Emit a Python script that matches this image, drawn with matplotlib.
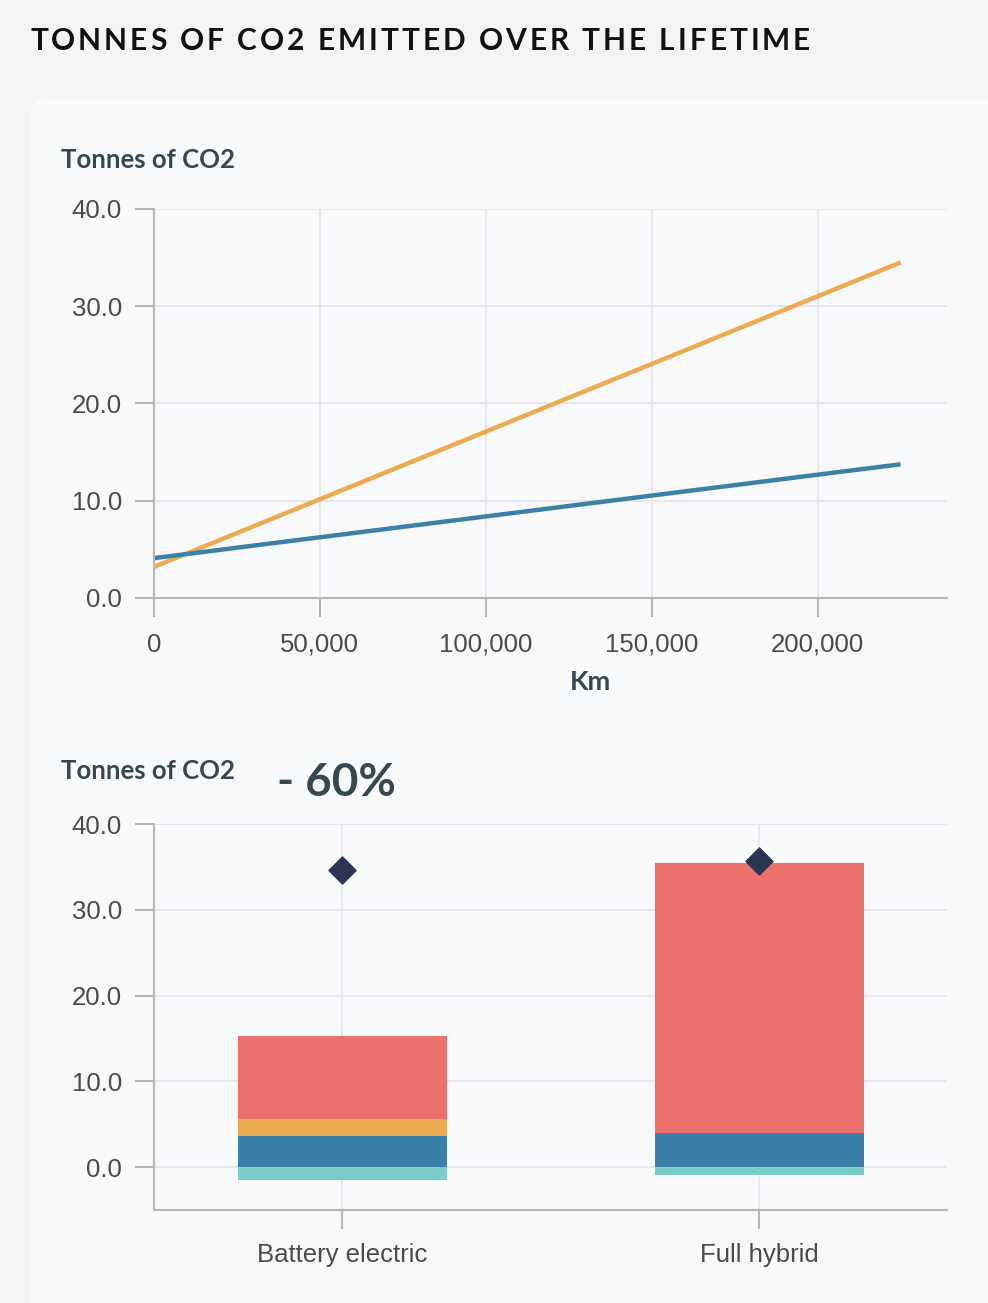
"""Lifetime CO2 emissions: battery electric vs full hybrid."""
import matplotlib

matplotlib.use("Agg")
import matplotlib.pyplot as plt
from matplotlib.patches import FancyBboxPatch
from matplotlib.ticker import FuncFormatter

# --- data -----------------------------------------------------------------
km = [0, 225000]
hybrid_line = [3.2, 34.5]
electric_line = [4.1, 13.75]

categories = ["Battery electric", "Full hybrid"]
seg_teal = [-1.5, -0.9]      # below zero
seg_blue = [3.6, 4.0]
seg_orange = [2.0, 0.0]
seg_red = [9.7, 31.45]
diamond = [34.6, 35.7]

y_ticks = [0, 10, 20, 30, 40]
x_ticks = [0, 50000, 100000, 150000, 200000]
saving_label = "- 60%"

# --- style ----------------------------------------------------------------
BG = "#f4f4f2"
CARD = "#f8f9fa"
GRID = "#e4e6e9"
SPINE = "#b4b6b8"
TEXT = "#4a4a4a"
HEAD = "#37474f"
ORANGE = "#eeaa50"
BLUE = "#3b80a7"
RED = "#ea716c"
TEAL = "#7accc9"
NAVY = "#2b3550"

W, H = 988, 1303
fig = plt.figure(figsize=(W / 100, H / 100), dpi=100, facecolor=BG)

card = FancyBboxPatch(
    (30 / W, -0.05), 1.2, (H - 100) / H + 0.05,
    boxstyle="round,pad=0,rounding_size=0.015",
    transform=fig.transFigure, facecolor=CARD, edgecolor="none", zorder=-5,
)
fig.patches.append(card)


def spaced_text(x_px, y_px, text, spacing_px, **kw):
    """Draw text with manual letter spacing (matplotlib has no tracking)."""
    renderer = fig.canvas.get_renderer()
    probe = fig.text(0, 0, "", **kw)

    def width(s):
        probe.set_text(s + "|")
        w1 = probe.get_window_extent(renderer).width
        probe.set_text("|")
        return w1 - probe.get_window_extent(renderer).width

    for i, ch in enumerate(text):
        x = x_px + width(text[:i]) + i * spacing_px
        fig.text(x / W, 1 - y_px / H, ch, va="center", ha="left", **kw)
    probe.remove()


spaced_text(30, 41, "TONNES OF CO2 EMITTED OVER THE LIFETIME", 3.0,
            fontsize=21.5, fontweight="bold", color="#111111", family="Lato")


def style_axes(ax):
    ax.set_facecolor("none")
    for side in ("top", "right"):
        ax.spines[side].set_visible(False)
    for side in ("left", "bottom"):
        ax.spines[side].set_color(SPINE)
        ax.spines[side].set_linewidth(1.5)
    ax.tick_params(axis="both", length=14, width=1.5, color=SPINE,
                   labelcolor=TEXT, labelsize=18.5)
    ax.tick_params(axis="y", pad=9)
    ax.grid(True, color=GRID, linewidth=1.3)
    ax.set_axisbelow(True)
    ax.yaxis.set_major_formatter(FuncFormatter(lambda v, _: f"{v:.1f}"))
    for lab in ax.get_xticklabels() + ax.get_yticklabels():
        lab.set_family(["Liberation Sans", "DejaVu Sans"])


# --- line chart -----------------------------------------------------------
ax1 = fig.add_axes([154 / W, 1 - 598 / H, (947 - 154) / W, (598 - 209) / H])
ax1.plot(km, hybrid_line, color=ORANGE, linewidth=3.2, solid_capstyle="butt")
ax1.plot(km, electric_line, color=BLUE, linewidth=3.2, solid_capstyle="butt")
ax1.set_xlim(0, 239000)
ax1.set_ylim(0, 40)
ax1.set_yticks(y_ticks)
ax1.set_xticks(x_ticks)
ax1.xaxis.set_major_formatter(FuncFormatter(lambda v, _: f"{v:,.0f}"))
style_axes(ax1)
ax1.tick_params(axis="x", pad=11)
fig.text(590 / W, 1 - 682 / H, "Km", fontsize=19.5, fontweight="bold",
         color=HEAD, family="Lato", ha="center", va="center")
fig.text(61 / W, 1 - 160 / H, "Tonnes of CO2", fontsize=18.5, fontweight="bold",
         color=HEAD, family="Lato", va="center")

# --- stacked bars ---------------------------------------------------------
ax2 = fig.add_axes([154 / W, 1 - 1210 / H, (947 - 154) / W, (1210 - 824) / H])
pos = list(range(len(categories)))
bw = 0.5
ax2.bar(pos, seg_teal, width=bw, color=TEAL, zorder=2)
ax2.bar(pos, seg_blue, width=bw, color=BLUE, zorder=2)
ax2.bar(pos, seg_orange, width=bw, bottom=seg_blue, color=ORANGE, zorder=2)
red_bottom = [b + o for b, o in zip(seg_blue, seg_orange)]
ax2.bar(pos, seg_red, width=bw, bottom=red_bottom, color=RED, zorder=2)
ax2.scatter(pos, diamond, marker="D", s=190, color=NAVY, zorder=3)
ax2.set_xlim(-0.452, 1.45)
ax2.set_ylim(-5, 40)
ax2.set_yticks(y_ticks)
ax2.set_xticks(pos)
ax2.set_xticklabels(categories)
style_axes(ax2)
ax2.tick_params(axis="x", pad=10)
fig.text(61 / W, 1 - 771 / H, "Tonnes of CO2", fontsize=18.5, fontweight="bold",
         color=HEAD, family="Lato", va="center")
fig.text(277 / W, 1 - 783 / H, saving_label, fontsize=33, fontweight="bold",
         color=HEAD, family="Lato", va="center")

fig.savefig("out.png", dpi=100, facecolor=BG)
